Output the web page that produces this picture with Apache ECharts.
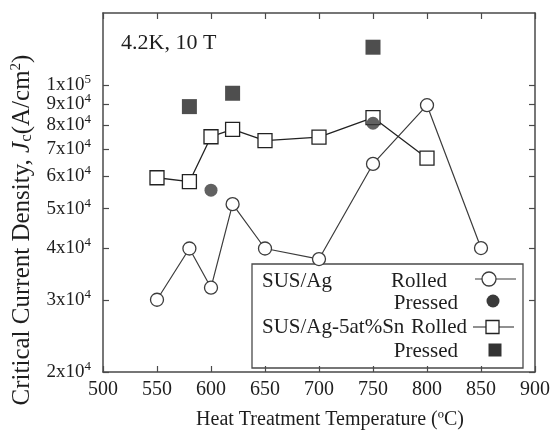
<!DOCTYPE html>
<html>
<head>
<meta charset="utf-8">
<script src="https://cdn.jsdelivr.net/npm/echarts@6/dist/echarts.min.js"></script>
<style>
  html, body { margin: 0; padding: 0; background: #fff; }
  #chart { width: 553px; height: 435px; }
</style>
</head>
<body>
<div id="chart"></div>
<script>
// Heat treatment temperatures (°C)
const tempsAgRolled = [550, 580, 600, 620, 650, 700, 750, 800, 850];
const jcAgRolled = [30000, 40000, 32100, 51300, 40000, 37700, 64300, 89400, 40100];

const tempsSnRolled = [550, 580, 600, 620, 650, 700, 750, 800];
const jcSnRolled = [59500, 58200, 74900, 78100, 73300, 74700, 83400, 66400];

const tempsAgPressed = [600, 750];
const jcAgPressed = [55500, 80800];

const tempsSnPressed = [580, 620, 750];
const jcSnPressed = [88700, 95600, 123800];

// Axis ticks
const xTicks = [500, 550, 600, 650, 700, 750, 800, 850, 900];
const yTicks = [20000, 30000, 40000, 50000, 60000, 70000, 80000, 90000, 100000];
// labels split over two axes so closely spaced ones are not culled
const yLabelsA = yTicks.filter((v) => v !== 90000);
const yLabelsB = [90000];

const pairs = (xs, ys) => xs.map((x, i) => [x, ys[i]]);

const SERIF = '"Liberation Serif", "DejaVu Serif", serif';
const INK = '#3c3c3c';
const FRAME = '#4a4a4a';

function sciLabel(v) {
  const exp = Math.floor(Math.log10(v) + 1e-9);
  const mant = Math.round(v / Math.pow(10, exp));
  return '{m|' + mant + 'x10}{e|' + exp + '}';
}

const sciRich = {
  m: { fontFamily: SERIF, fontSize: 19, lineHeight: 12, color: '#1e1e1e' },
  e: { fontFamily: SERIF, fontSize: 13, lineHeight: 2, padding: [0, 0, 11, 0], color: '#1e1e1e' }
};

const chart = echarts.init(document.getElementById('chart'), null, { renderer: 'canvas' });

const axisLine = { show: true, lineStyle: { color: FRAME, width: 1.5 } };
const tickStyle = { show: true, inside: true, length: 6, lineStyle: { color: FRAME, width: 1.2 } };

chart.setOption({
  animation: false,
  backgroundColor: '#fff',
  grid: { left: 103, right: 17, top: 13, bottom: 63, containLabel: false },
  xAxis: [
    {
      type: 'value', position: 'bottom', min: 500, max: 900, interval: 50,
      axisLine: axisLine,
      axisTick: Object.assign({}, tickStyle, { customValues: xTicks }),
      axisLabel: {
        customValues: xTicks, margin: 8, hideOverlap: false,
        fontFamily: SERIF, fontSize: 20, color: '#1e1e1e'
      },
      splitLine: { show: false }
    },
    {
      type: 'value', position: 'top', min: 500, max: 900, interval: 50,
      axisLine: axisLine,
      axisTick: Object.assign({}, tickStyle, { customValues: xTicks }),
      axisLabel: { show: false },
      splitLine: { show: false }
    }
  ],
  yAxis: [
    {
      type: 'log', logBase: 10, position: 'left', min: 20000, max: 150000,
      axisLine: axisLine,
      axisTick: Object.assign({}, tickStyle, { customValues: yTicks }),
      axisLabel: {
        customValues: yLabelsA, margin: 12, hideOverlap: false,
        formatter: sciLabel, rich: sciRich
      },
      splitLine: { show: false }
    },
    {
      type: 'log', logBase: 10, position: 'right', min: 20000, max: 150000,
      axisLine: axisLine,
      axisTick: Object.assign({}, tickStyle, { customValues: yTicks }),
      axisLabel: { show: false },
      splitLine: { show: false }
    },
    {
      type: 'log', logBase: 10, position: 'left', min: 20000, max: 150000,
      axisLine: { show: false },
      axisTick: { show: false },
      axisLabel: {
        customValues: yLabelsB, margin: 12, hideOverlap: false,
        formatter: sciLabel, rich: sciRich
      },
      splitLine: { show: false }
    }
  ],
  series: [
    {
      name: 'SUS/Ag Rolled', type: 'line', xAxisIndex: 0, yAxisIndex: 0,
      data: pairs(tempsAgRolled, jcAgRolled),
      symbol: 'circle', symbolSize: 13, z: 3,
      lineStyle: { color: INK, width: 1.2 },
      itemStyle: { color: '#fff', borderColor: INK, borderWidth: 1.3 }
    },
    {
      name: 'SUS/Ag-5at%Sn Rolled', type: 'line', xAxisIndex: 0, yAxisIndex: 0,
      data: pairs(tempsSnRolled, jcSnRolled),
      symbol: 'rect', symbolSize: 14, z: 3,
      lineStyle: { color: '#222', width: 1.3 },
      itemStyle: { color: '#fff', borderColor: '#222', borderWidth: 1.3 }
    },
    {
      name: 'SUS/Ag Pressed', type: 'scatter', xAxisIndex: 0, yAxisIndex: 0,
      data: pairs(tempsAgPressed, jcAgPressed),
      symbol: 'circle', symbolSize: 13, z: 4,
      itemStyle: { color: '#3a3a3a' }
    },
    {
      name: 'SUS/Ag-5at%Sn Pressed', type: 'scatter', xAxisIndex: 0, yAxisIndex: 0,
      data: pairs(tempsSnPressed, jcSnPressed),
      symbol: 'rect', symbolSize: 15, z: 4,
      itemStyle: { color: '#222' }
    }
  ],
  graphic: [
    // y-axis title
    {
      type: 'text', x: 22, y: 230, rotation: Math.PI / 2, z: 10,
      style: {
        text: 'Critical Current Density, {i|J}{s|c}(A/cm{p|2})',
        font: '25px ' + SERIF, fill: '#1e1e1e',
        align: 'center', verticalAlign: 'middle',
        rich: {
          i: { fontFamily: SERIF, fontSize: 25, fontStyle: 'italic', fill: '#1e1e1e' },
          s: { fontFamily: SERIF, fontSize: 17, fill: '#1e1e1e', padding: [10, 0, 0, 0] },
          p: { fontFamily: SERIF, fontSize: 15, fill: '#1e1e1e', padding: [0, 0, 12, 0] }
        }
      }
    },
    // x-axis title
    {
      type: 'text', x: 330, y: 420, z: 10,
      style: {
        text: 'Heat Treatment Temperature (ºC)',
        font: '20px ' + SERIF, fill: '#1e1e1e',
        align: 'center', verticalAlign: 'middle'
      }
    },
    // condition annotation
    {
      type: 'text', x: 121, y: 43, z: 10,
      style: {
        text: '4.2K, 10 T',
        font: '22px ' + SERIF, fill: '#1e1e1e',
        align: 'left', verticalAlign: 'middle'
      }
    },
    // legend
    {
      type: 'group', z: 20,
      children: [
        { type: 'rect', shape: { x: 252, y: 264, width: 271, height: 104 },
          style: { fill: '#fff', stroke: FRAME, lineWidth: 1.3 } },
        { type: 'text', x: 262, y: 281, style: { text: 'SUS/Ag', font: '21px ' + SERIF, fill: '#1e1e1e', align: 'left', verticalAlign: 'middle' } },
        { type: 'text', x: 447, y: 281, style: { text: 'Rolled', font: '21px ' + SERIF, fill: '#1e1e1e', align: 'right', verticalAlign: 'middle' } },
        { type: 'line', shape: { x1: 475, y1: 279, x2: 516, y2: 279 }, style: { stroke: INK, lineWidth: 1.2 } },
        { type: 'circle', shape: { cx: 489, cy: 279, r: 7 }, style: { fill: '#fff', stroke: INK, lineWidth: 1.3 } },
        { type: 'text', x: 458, y: 303, style: { text: 'Pressed', font: '21px ' + SERIF, fill: '#1e1e1e', align: 'right', verticalAlign: 'middle' } },
        { type: 'circle', shape: { cx: 493, cy: 301, r: 6.5 }, style: { fill: '#3a3a3a' } },
        { type: 'text', x: 262, y: 327, style: { text: 'SUS/Ag-5at%Sn', font: '21px ' + SERIF, fill: '#1e1e1e', align: 'left', verticalAlign: 'middle' } },
        { type: 'text', x: 467, y: 327, style: { text: 'Rolled', font: '21px ' + SERIF, fill: '#1e1e1e', align: 'right', verticalAlign: 'middle' } },
        { type: 'line', shape: { x1: 473, y1: 327, x2: 514, y2: 327 }, style: { stroke: '#222', lineWidth: 1.2 } },
        { type: 'rect', shape: { x: 486, y: 320.5, width: 13, height: 13 }, style: { fill: '#fff', stroke: '#222', lineWidth: 1.3 } },
        { type: 'text', x: 458, y: 351, style: { text: 'Pressed', font: '21px ' + SERIF, fill: '#1e1e1e', align: 'right', verticalAlign: 'middle' } },
        { type: 'rect', shape: { x: 488.5, y: 343.5, width: 13, height: 13 }, style: { fill: '#333' } }
      ]
    }
  ]
});
</script>
</body>
</html>
